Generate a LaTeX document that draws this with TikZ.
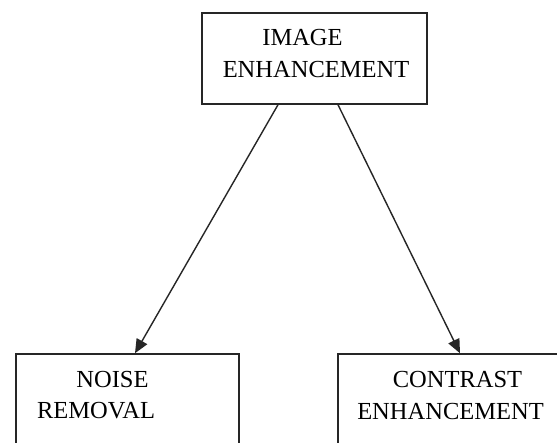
\documentclass[tikz,border=0pt]{standalone}
\usepackage{fontspec}
\setmainfont{Liberation Serif}
\usetikzlibrary{arrows.meta}
\begin{document}
\begin{tikzpicture}[x=1pt, y=-1pt,
  box/.style={draw=black!85, line width=1.5pt, rectangle, inner sep=0pt},
  lbl/.style={anchor=base, inner sep=0pt, font=\fontsize{24.5}{32}\selectfont},
  link/.style={draw=black!85, line width=1.4pt, -{Triangle[length=14pt,width=12pt]}}]
\useasboundingbox (0,0) rectangle (557,442);
\fill[white] (0,0) rectangle (557,442);
\clip (0,0) rectangle (557,442);

% boxes
\node[box, minimum width=225pt, minimum height=91pt] (top) at (314.5,58.5) {};
\node[box, minimum width=223pt, minimum height=116pt] (noise) at (127.5,412) {};
\node[box, minimum width=227pt, minimum height=116pt] (contrast) at (451.5,412) {};

% labels
\node[lbl] (t1) at (302.5,45) {IMAGE};
\node[lbl] (t2) at (316,77) {ENHANCEMENT};
\node[lbl] (n1) at (112.5,387) {NOISE};
\node[lbl] (n2) at (96,418) {REMOVAL};
\node[lbl] (c1) at (457.5,387) {CONTRAST};
\node[lbl] (c2) at (450.5,419) {ENHANCEMENT};

% connectors
\draw[link] ([xshift=-36.5pt]top.south) -- ([xshift=7.5pt]noise.north);
\draw[link] ([xshift=23.5pt]top.south) -- ([xshift=8.5pt]contrast.north);
\end{tikzpicture}
\end{document}
